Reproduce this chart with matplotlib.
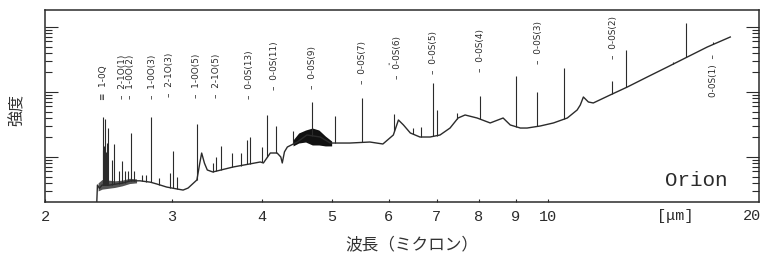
import numpy as np
import matplotlib
matplotlib.use("Agg")
import matplotlib.pyplot as plt
from matplotlib.ticker import LogLocator, NullFormatter, NullLocator
from matplotlib.transforms import blended_transform_factory

# ---------------- data ----------------
# continuum of the Orion spectrum: wavelength [um], intensity (arb., log)
cont_wl = [2.36, 2.365, 2.38, 2.40, 2.46, 2.57, 2.63, 2.71, 2.80, 2.86, 2.95,
           3.05, 3.11, 3.16, 3.25, 3.28, 3.30, 3.33, 3.36, 3.42, 3.65, 3.82,
           3.98, 4.02, 4.11, 4.20, 4.25, 4.27, 4.30, 4.34, 4.48, 4.62, 4.82,
           4.98, 5.30, 5.65, 5.89, 6.09, 6.19, 6.29, 6.43, 6.63, 6.85, 7.07,
           7.30, 7.49, 7.66, 7.96, 8.30, 8.65, 8.85, 9.14, 9.34, 9.74, 10.16,
           10.62, 10.96, 11.07, 11.18, 11.36, 11.54, 12.18, 12.86, 13.71,
           14.62, 15.59, 16.61, 17.88]
cont_int = [0.20, 0.37, 0.33, 0.37, 0.37, 0.40, 0.43, 0.43, 0.41, 0.384, 0.345,
            0.322, 0.31, 0.333, 0.443, 0.80, 1.15, 0.80, 0.631, 0.588, 0.702, 0.77,
            0.838, 0.809, 1.152, 1.152, 1.0, 0.809, 1.2, 1.425, 1.70, 2.18, 2.03,
            1.64, 1.64, 1.70, 1.585, 2.18, 3.71, 3.11, 2.34, 2.03, 2.03, 2.18,
            2.79, 3.98, 4.43, 3.98, 3.34, 3.98, 3.11, 2.79, 2.79, 3.00, 3.34,
            3.98, 5.29, 6.31, 8.38, 7.02, 6.78, 9.0, 11.9, 17.0,
            24.2, 34.6, 49.2, 70.2]

# emission lines: wavelength [um], peak intensity
line_wl = [2.405, 2.41, 2.415, 2.42, 2.425, 2.43, 2.435, 2.44, 2.45, 2.48, 2.49,
           2.53, 2.56, 2.58, 2.61, 2.63, 2.66, 2.73, 2.76, 2.81, 2.88, 2.98,
           3.01, 3.05, 3.25, 3.42, 3.46, 3.51, 3.64, 3.74, 3.82, 3.85, 4.00,
           4.07, 4.19, 4.42, 4.70, 5.06, 5.51, 6.11, 6.49, 6.66, 6.92, 7.00,
           7.47, 8.04, 9.02, 9.65, 10.52, 12.26, 12.82, 14.91, 15.54, 16.94]
line_peak = [1.3, 4.12, 1.5, 3.84, 1.3, 1.2, 1.0, 1.64, 2.79, 0.90, 1.585,
             0.61, 0.868, 0.61, 0.61, 2.34, 0.61, 0.53, 0.53, 4.12, 0.475, 0.567,
             1.24, 0.49, 3.22, 0.809, 1.0, 1.48, 1.152, 1.152, 1.83, 2.03, 1.425,
             4.43, 3.00, 2.51, 7.02, 4.27, 8.09, 4.59, 2.79, 2.89, 13.75, 5.29,
             4.75, 8.68, 17.6, 10.0, 23.4, 14.8, 44.3, 28.9, 115.0, 58.8]

# noisy parts of the spectrum (upper / lower envelope)
noise1_wl = [2.37, 2.40, 2.45, 2.50, 2.56, 2.62, 2.68]
noise1_hi = [0.40, 0.45, 0.44, 0.43, 0.44, 0.47, 0.46]
noise1_lo = [0.30, 0.32, 0.33, 0.34, 0.36, 0.39, 0.40]
noise2_wl = [4.42, 4.50, 4.60, 4.70, 4.80, 4.90, 5.00]
noise2_hi = [1.83, 2.34, 2.60, 2.79, 2.60, 2.10, 1.76]
noise2_lo = [1.48, 1.64, 1.70, 1.53, 1.53, 1.48, 1.48]

# H2 line identifications
label_text = ["1-0Q", "2-1O(1)", "1-0O(2)", "1-0O(3)", "2-1O(3)", "1-0O(5)",
              "2-1O(5)", "0-0S(13)", "0-0S(11)", "0-0S(9)", "0-0S(7)",
              "0-0S(6)", "0-0S(5)", "0-0S(4)", "0-0S(3)", "0-0S(2)", "0-0S(1)"]
label_wl = [2.41, 2.56, 2.63, 2.82, 2.98, 3.25, 3.46, 3.85, 4.17, 4.70, 5.51,
            6.17, 6.92, 8.04, 9.68, 12.30, 16.94]

xtick_vals = [2, 3, 4, 5, 6, 7, 8, 9, 10]
xtick_labels = ["2", "3", "4", "5", "6", "7", "8", "9", "10"]

# ---------------- layout ----------------
label_ypos = [0.531, 0.536, 0.536, 0.536, 0.547, 0.542, 0.542, 0.536, 0.583,
              0.589, 0.615, 0.641, 0.667, 0.677, 0.719, 0.745, 0.771]

INK = "#2b2b2b"
W, H = 761, 258
fig = plt.figure(figsize=(W / 100, H / 100), dpi=100)
fig.patch.set_facecolor("white")
ax = fig.add_axes([45 / W, 1 - 202 / H, (759 - 45) / W, 192 / H])
ax.set_xscale("log")
ax.set_yscale("log")
ax.set_xlim(2, 19.6)
ax.set_ylim(0.203, 182.7)

# spectrum
ax.plot(cont_wl, cont_int, color=INK, lw=1.0, solid_joinstyle="round")
base = np.interp(line_wl, cont_wl, cont_int)
ax.vlines(line_wl, base, line_peak, color=INK, lw=0.8)
ax.fill_between(noise1_wl, noise1_lo, noise1_hi, color=INK, lw=0, alpha=0.8)
ax.fill_between(noise2_wl, noise2_lo, noise2_hi, color="#111111", lw=0)

# line labels
trans = blended_transform_factory(ax.transData, ax.transAxes)
lab_font = dict(family="DejaVu Sans", fontsize=6.4, color=INK, rotation=90,
                ha="center")
for txt, wl, yp in zip(label_text, label_wl, label_ypos):
    if txt == "0-0S(1)":
        ax.text(wl, yp, txt + "  \u2013", transform=trans, va="top", **lab_font)
    elif txt == "1-0Q":
        ax.text(wl, yp, "\u2261  " + txt, transform=trans, va="bottom", **lab_font)
    else:
        ax.text(wl, yp, "\u2013  " + txt, transform=trans, va="bottom", **lab_font)
ax.text(6.00, 0.70, "'", transform=trans, fontsize=6, color=INK, ha="center",
        va="center")

# axes styling
for s in ax.spines.values():
    s.set_color(INK)
    s.set_linewidth(1.1)
ax.set_xticks(xtick_vals)
ax.set_xticklabels(xtick_labels)
ax.xaxis.set_minor_locator(NullLocator())
ax.tick_params(axis="x", which="major", direction="in", length=2.5, width=0.8,
               color=INK, pad=6, labelsize=11, labelcolor=INK)
for lab in ax.get_xticklabels():
    lab.set_family("Liberation Mono")
ax.yaxis.set_major_locator(LogLocator(base=10, numticks=10))
ax.yaxis.set_minor_locator(LogLocator(base=10, subs=np.arange(2, 10), numticks=20))
ax.yaxis.set_major_formatter(NullFormatter())
ax.yaxis.set_minor_formatter(NullFormatter())
ax.tick_params(axis="y", which="major", direction="in", length=9.5, width=0.8,
               color=INK, left=True, right=True)
ax.tick_params(axis="y", which="minor", direction="in", length=5, width=0.8,
               color=INK, left=True, right=True)

# extra texts
mono = "Liberation Mono"
fig.text(761 / W, 1 - 216 / H, "20", ha="right", va="center",
         family=mono, fontsize=11, color=INK)
fig.text(675 / W, 1 - 216 / H, "[\u03bcm]", ha="center", va="center",
         family=mono, fontsize=11, color=INK)
fig.text(696 / W, 1 - 181 / H, "Orion", ha="center", va="center",
         family=mono, fontsize=15, color=INK)
fig.text(17 / W, 1 - 110 / H, "強度", rotation=90, ha="center", va="center",
         family=["Noto Sans CJK JP", "DejaVu Sans"], fontsize=11.5, color="#333333")
fig.text(412 / W, 1 - 245 / H, "波長（ミクロン）", ha="center", va="center",
         family=["Noto Sans CJK JP", "DejaVu Sans"], fontsize=12, color="#333333")

fig.savefig("out.png", dpi=100, facecolor="white")
